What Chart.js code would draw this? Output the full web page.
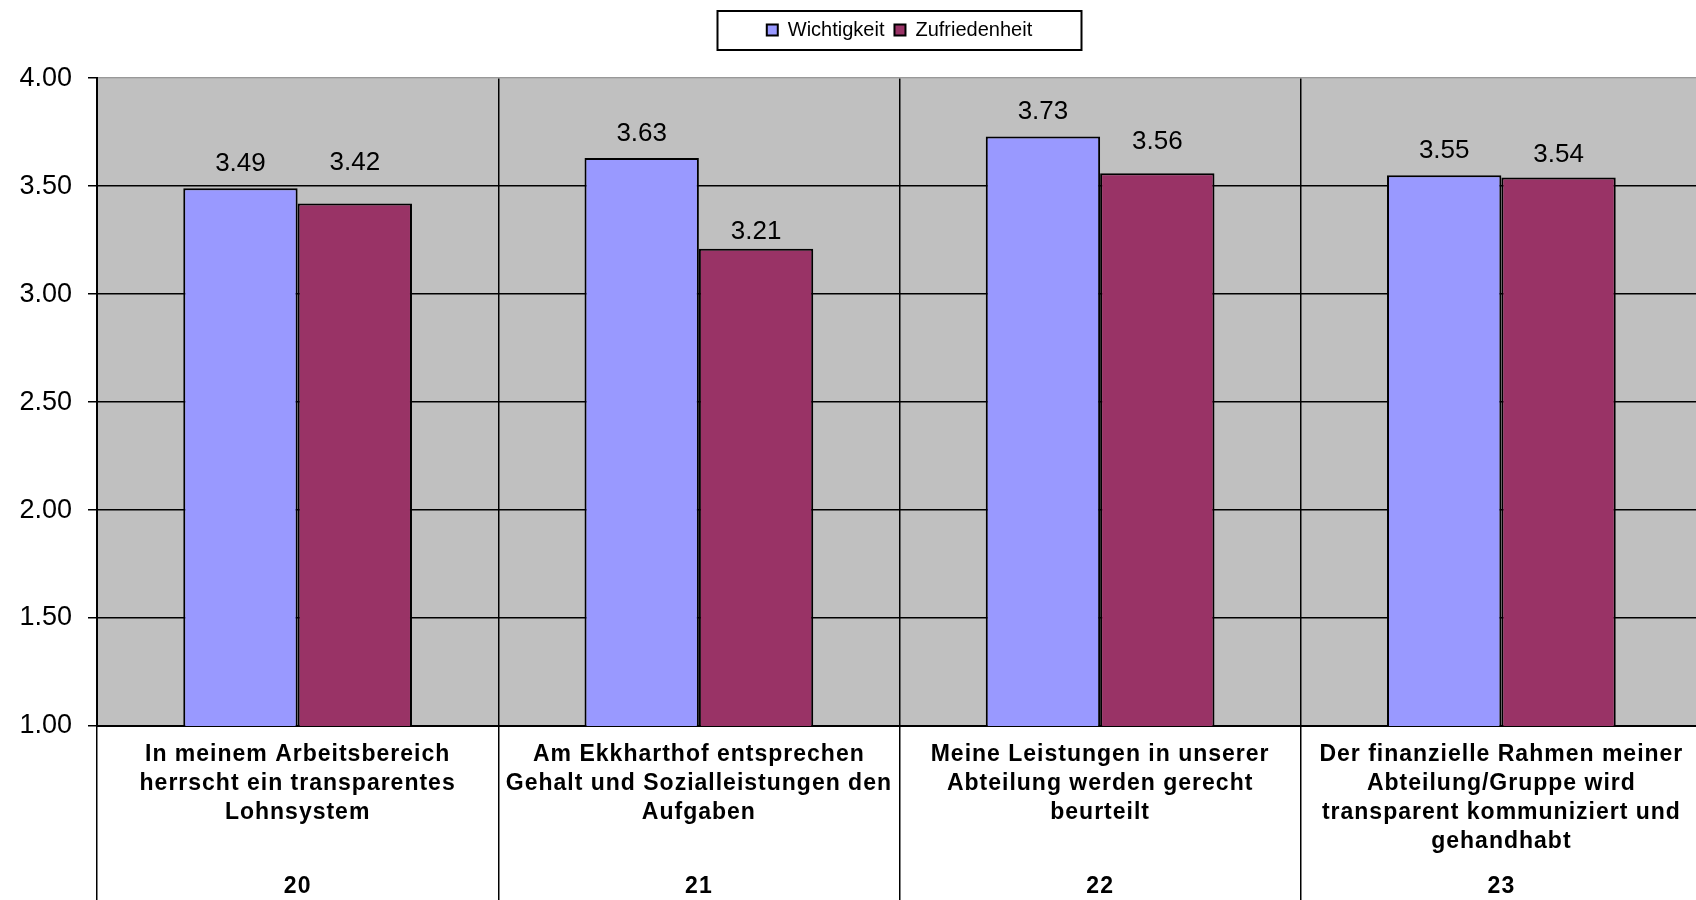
<!DOCTYPE html>
<html>
<head>
<meta charset="utf-8">
<script src="https://cdn.jsdelivr.net/npm/chart.js@4.4.1/dist/chart.umd.min.js"></script>
<style>
  html, body { margin: 0; padding: 0; background: #fff; overflow: hidden; }
</style>
</head>
<body>
<canvas id="chart" width="1702" height="900"></canvas>
<script>
// Chart data
const categoryText = [
  ['In meinem Arbeitsbereich', 'herrscht ein transparentes', 'Lohnsystem'],
  ['Am Ekkharthof entsprechen', 'Gehalt und Sozialleistungen den', 'Aufgaben'],
  ['Meine Leistungen in unserer', 'Abteilung werden gerecht', 'beurteilt'],
  ['Der finanzielle Rahmen meiner', 'Abteilung/Gruppe wird', 'transparent kommuniziert und', 'gehandhabt']
];
const categoryNumbers = ['20', '21', '22', '23'];
const seriesNames = ['Wichtigkeit', 'Zufriedenheit'];
const importance = [3.49, 3.63, 3.73, 3.55];
const satisfaction = [3.42, 3.21, 3.56, 3.54];
const yMin = 1, yMax = 4, yStep = 0.5;

const FONT = 'Arial, "Liberation Sans", sans-serif';
Chart.defaults.font.family = FONT;
Chart.defaults.color = '#000';

// grey plot background
const plotBackground = {
  id: 'plotBackground',
  beforeDraw(chart) {
    const { ctx, chartArea: a } = chart;
    ctx.save();
    ctx.fillStyle = '#C0C0C0';
    ctx.fillRect(a.left, a.top, a.right - a.left, a.bottom - a.top);
    ctx.restore();
  }
};

// numbers above the bars (labels were nudged by hand in the original)
const valueLabels = {
  id: 'valueLabels',
  afterDatasetsDraw(chart, args, opts) {
    const ctx = chart.ctx;
    ctx.save();
    ctx.font = '26px ' + FONT;
    ctx.fillStyle = '#000';
    ctx.textAlign = 'center';
    ctx.textBaseline = 'middle';
    chart.data.datasets.forEach((ds, i) => {
      chart.getDatasetMeta(i).data.forEach((bar, j) => {
        const lift = (opts.lift && opts.lift[i]) ? opts.lift[i][j] : 24;
        ctx.fillText(ds.data[j].toFixed(2), bar.x, bar.y - lift);
      });
    });
    ctx.restore();
  }
};

// category texts and numbers under the axis
const categoryLabels = {
  id: 'categoryLabels',
  afterDraw(chart) {
    const ctx = chart.ctx;
    const x = chart.scales.x;
    const base = chart.chartArea.bottom;
    ctx.save();
    ctx.fillStyle = '#000';
    ctx.textAlign = 'center';
    ctx.textBaseline = 'middle';
    ctx.font = 'bold 23px ' + FONT;
    ctx.letterSpacing = '1px';
    categoryText.forEach((lines, i) => {
      const cx = x.getPixelForValue(i);
      lines.forEach((line, k) => ctx.fillText(line, cx, base + 29 + k * 29));
      ctx.fillText(categoryNumbers[i], cx, base + 161);
    });
    ctx.restore();
  }
};

// frame around the legend
const legendFrame = {
  id: 'legendFrame',
  afterDraw(chart) {
    const lg = chart.legend;
    const ctx = chart.ctx;
    const cx = lg.left + lg.width / 2;
    ctx.save();
    ctx.strokeStyle = '#000';
    ctx.lineWidth = 2;
    ctx.strokeRect(cx - 182, 11, 364, 39);
    ctx.restore();
  }
};

new Chart(document.getElementById('chart'), {
  type: 'bar',
  data: {
    labels: categoryNumbers,
    datasets: [
      {
        label: seriesNames[0],
        data: importance,
        backgroundColor: '#9999FF',
        borderColor: '#000',
        borderWidth: 2,
        borderSkipped: false
      },
      {
        label: seriesNames[1],
        data: satisfaction,
        backgroundColor: '#993366',
        borderColor: '#000',
        borderWidth: 2,
        borderSkipped: false
      }
    ]
  },
  options: {
    responsive: false,
    animation: false,
    layout: { padding: { top: 10, left: 0, right: 0, bottom: 0 } },
    datasets: {
      bar: { categoryPercentage: 0.57, barPercentage: 1.0 }
    },
    plugins: {
      tooltip: { enabled: false },
      valueLabels: {
        lift: [[24, 24, 25, 25], [41, 17, 31, 23]]
      },
      legend: {
        position: 'top',
        fullSize: false,
        labels: {
          boxWidth: 11,
          boxHeight: 11,
          padding: 10,
          color: '#000',
          font: { size: 20 }
        }
      },
      title: {
        display: true,
        text: '',
        fullSize: false,
        weight: 500,
        font: { size: 1 },
        padding: { top: 0, bottom: 27 }
      }
    },
    scales: {
      x: {
        offset: true,
        ticks: { display: false },
        grid: {
          offset: true,
          color: '#000',
          lineWidth: 1.5,
          drawTicks: true,
          tickLength: 174,
          tickColor: '#000'
        },
        border: { display: true, color: '#000', width: 2 },
        afterFit(scale) { scale.height = 174; }
      },
      y: {
        min: yMin,
        max: yMax,
        ticks: {
          stepSize: yStep,
          padding: 16,
          color: '#000',
          font: { size: 27 },
          callback: v => Number(v).toFixed(2)
        },
        grid: {
          color: c => (c.tick && c.tick.value === yMax) ? '#999' : '#000',
          lineWidth: 1.5,
          tickLength: 9,
          tickColor: '#000'
        },
        border: { display: true, color: '#000', width: 2 },
        afterFit(scale) { scale.width = 97; }
      }
    }
  },
  plugins: [plotBackground, valueLabels, categoryLabels, legendFrame]
});
</script>
</body>
</html>
